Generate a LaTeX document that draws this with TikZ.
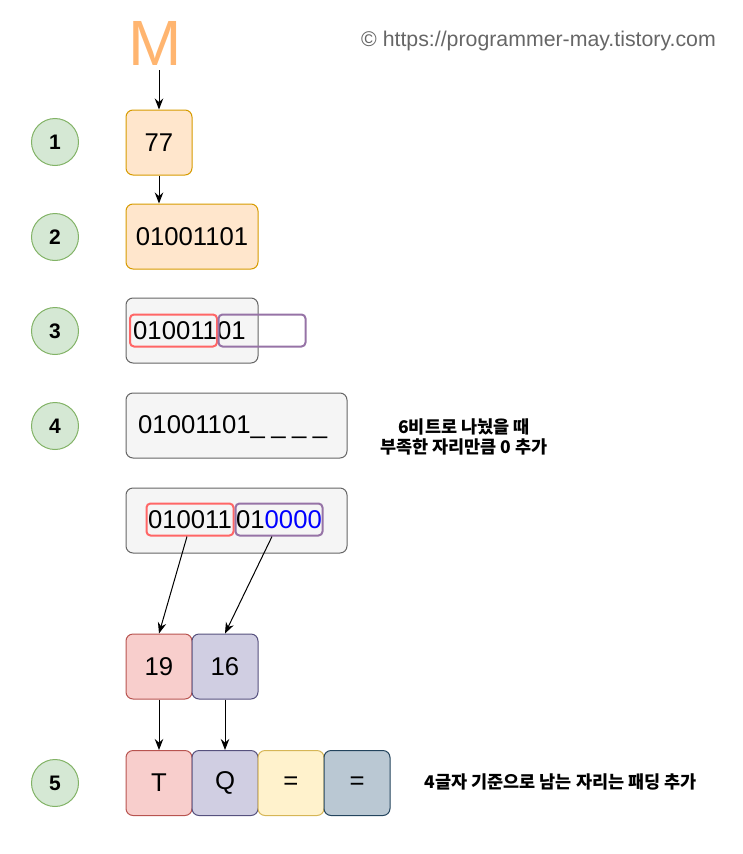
\documentclass[tikz,border=0pt]{standalone}
\usepackage{fontspec}
\setmainfont{Liberation Sans}
\newfontfamily\kr{Noto Sans CJK KR}
\usetikzlibrary{arrows.meta,calc}
\definecolor{orgF}{HTML}{FFE6CC}\definecolor{orgD}{HTML}{D79B00}
\definecolor{grnF}{HTML}{D5E8D4}\definecolor{grnD}{HTML}{82B366}
\definecolor{gryF}{HTML}{F5F5F5}\definecolor{gryD}{HTML}{666666}
\definecolor{redF}{HTML}{F8CECC}\definecolor{redD}{HTML}{B85450}
\definecolor{purF}{HTML}{D0CEE2}\definecolor{purD}{HTML}{56517E}
\definecolor{yelF}{HTML}{FFF2CC}\definecolor{yelD}{HTML}{D6B656}
\definecolor{bluF}{HTML}{BAC8D3}\definecolor{bluD}{HTML}{23445D}
\definecolor{hlR}{HTML}{FF6666}\definecolor{hlP}{HTML}{9673A6}
\definecolor{mcol}{HTML}{FFB570}
\tikzset{
  box/.style={rectangle,rounded corners=7pt,line width=1pt,inner sep=0pt,font=\fontsize{25.7}{28}\selectfont,text=black},
  obox/.style={box,fill=orgF,draw=orgD},
  gbox/.style={box,fill=gryF,draw=gryD},
  rbox/.style={box,fill=redF,draw=redD,minimum width=66pt,minimum height=65pt},
  pbox/.style={box,fill=purF,draw=purD,minimum width=66pt,minimum height=65pt},
  ybox/.style={box,fill=yelF,draw=yelD,minimum width=66pt,minimum height=65pt},
  bbox/.style={box,fill=bluF,draw=bluD,minimum width=66pt,minimum height=65pt},
  hlr/.style={rectangle,rounded corners=4pt,draw=hlR,line width=2pt,inner sep=0pt,minimum width=87pt,minimum height=32pt,font=\fontsize{25.7}{28}\selectfont},
  hlp/.style={rectangle,rounded corners=4pt,draw=hlP,line width=2pt,inner sep=0pt,minimum width=87pt,minimum height=32pt,font=\fontsize{25.7}{28}\selectfont},
  stepnum/.style={circle,fill=grnF,draw=grnD,line width=1pt,minimum size=47pt,inner sep=0pt,font=\fontsize{21}{24}\selectfont\bfseries},
  arr/.style={-{Stealth[length=11pt,width=8.5pt]},line width=1pt},
  note/.style={font=\kr\bfseries\fontsize{17.5}{20}\selectfont,align=center}
}
\begin{document}
\begin{tikzpicture}[x=1pt,y=-1pt]
\useasboundingbox (0,0) rectangle (742,854);
% header
\node[text=mcol,font=\fontsize{64}{64}\selectfont,inner sep=0pt,anchor=base] (M) at (155,65) {M};
\node[text=gryD,font=\fontsize{21.3}{24}\selectfont,anchor=base west,inner sep=0pt] (cr) at (361,46) {\textcopyright{} https://programmer-may.tistory.com};
\coordinate (mtop) at (159,70);
% step circles
\node[stepnum] (c1) at (55,142) {1};
\node[stepnum] (c2) at (55,237) {2};
\node[stepnum] (c3) at (55,331) {3};
\node[stepnum] (c4) at (55,426) {4};
\node[stepnum] (c5) at (55,783) {5};
% step 1, 2
\node[obox,minimum width=66pt,minimum height=65pt] (b77) at (159,142.5) {77};
\node[obox,minimum width=132pt,minimum height=65pt] (b2) at (192,236.5) {01001101};
\draw[arr] (mtop) -- (b77.north);
\draw[arr] (b77.south) -- (b77.south |- b2.north);
% step 3
\node[gbox,minimum width=132pt,minimum height=65pt] (b3) at (192,330.5) {};
\node[font=\fontsize{25.7}{28}\selectfont,anchor=west,inner sep=0pt] (t3) at (133,331) {01001101};
\node[hlr] (r3) at (173.5,330.5) {};
\node[hlp] (p3) at (262,330.5) {};
% step 4
\node[gbox,minimum width=221pt,minimum height=65pt] (b4) at (236.5,425.5) {};
\node[font=\fontsize{25.7}{28}\selectfont,anchor=west,inner sep=0pt] (t4) at (138,427) {01001101\_\hspace{6.5pt}\_\hspace{6.5pt}\_\hspace{6.5pt}\_};
\node[note] (n4) at (464,437) {6비트로 나눴을 때\\부족한 자리만큼 0 추가};
% split
\node[gbox,minimum width=221pt,minimum height=65pt] (b5) at (236.5,520.5) {};
\node[hlr] (r5) at (190,519.5) {010011};
\node[hlp] (p5) at (279,519.5) {01\textcolor{blue}{0000}};
% values
\node[rbox] (v19) at (159,666.5) {19};
\node[pbox] (v16) at (225,666.5) {16};
\draw[arr] ($(r5.south)+(-3,0)$) -- (v19.north);
\draw[arr] ($(p5.south)+(-7,0)$) -- (v16.north);
% result
\node[rbox] (cT) at (159,783) {T};
\node[pbox] (cQ) at (225,783) {Q};
\node[ybox] (e1) at (291,783) {=};
\node[bbox] (e2) at (357,783) {=};
\draw[arr] (v19.south) -- (cT.north);
\draw[arr] (v16.south) -- (cQ.north);
\node[note,anchor=west] (n5) at (421,782) {4글자 기준으로 남는 자리는 패딩 추가};
\end{tikzpicture}
\end{document}
